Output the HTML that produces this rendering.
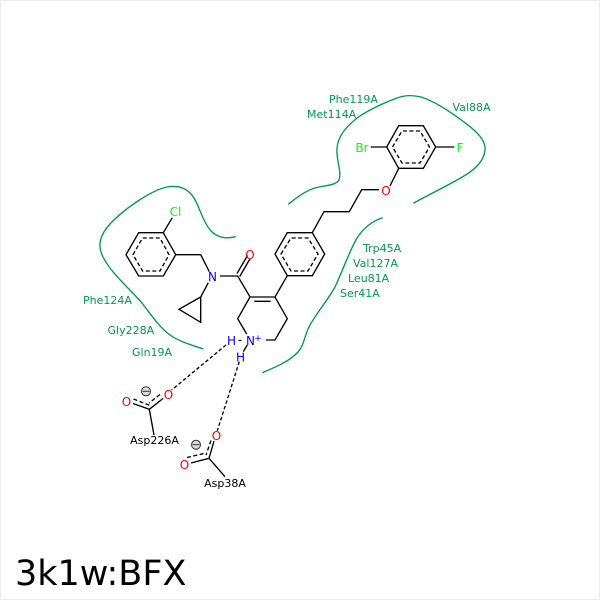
<!DOCTYPE html>
<html><head><meta charset="utf-8"><style>
html,body{margin:0;padding:0;background:#fff}
svg{display:block}
text{font-family:"DejaVu Sans",sans-serif;font-size:11px}
.g{fill:#009a4d}.b{fill:#000}.bl{fill:#0000ff;font-size:12px;text-anchor:middle}.r{fill:#ff0000;font-size:12px;text-anchor:middle}.l{fill:#00ff00;font-size:12px;text-anchor:middle}
.m{text-anchor:middle}
</style></head><body>
<svg width="600" height="600" viewBox="0 0 600 600" xmlns="http://www.w3.org/2000/svg">
<rect x="0.5" y="0.5" width="599" height="599" fill="#fff" stroke="#eeeeee" stroke-width="1"/>
<g fill="none" stroke="#009a4d" stroke-width="1.35">
<path d="M235.7,236.7C226,239 218,238 211,231C203,222 200,208 194,198C188,188 178,185 167,187C152,190 125,208 110,224C100,235 97,245 103,257C111,273 129,288 142,303C152,316 160,328 170,335C180,342 192,345 203.3,349"/>
<path d="M288.3,204.3C296,198 305,191 315,188C325,185 335,186 339,180C342,172 336,160 337,148C338,136 346,127 357,118C368,110 386,102 397,98C405,95 413,95 421,97C437,102 455,115 468,125C478,133 486,141 485,150C484,160 476,169 464,176C449,185 430,194 413.3,203.3"/>
<path d="M382.7,217.7C372,221 363,229 357,238C349,252 343,270 335,287C326,303 314,316 308,329C304,338 304,345 298,352C290,361 276,367 262.3,372.7"/>
</g>
<g fill="none" stroke="#000" stroke-width="1.35">
<path d="M126,254.7L138.7,232.7L163.3,232.7L175.7,254.7L163.3,276L138.7,276Z"/>
<path d="M163.3,232.7L172.3,217.7M175.7,254.7L200.7,254.7L209.3,271.7M220,276L237.7,276L250,297L275,297L287.3,318.7L275,340L266,340M250,297L237.7,318.7L246.7,334M254.3,301.3L270.7,301.3M237,273.5L247.5,255.5M239.7,276.5L250.2,258.5M275,297L287.3,275.7"/>
<path d="M208.3,282.7L200.7,297L179,309.3L200.7,322.3L200.7,297"/>
<path d="M275,254L287.3,232.7L312.3,232.7L324.7,254L312.3,275.7L287.3,275.7Z"/>
<path d="M312.3,232.7L324,211.7L349.3,211.7L361.7,189.7L379,189.7M390,186L398.7,168.3"/>
<path d="M386.7,147L398.7,125.7L423.3,125.7L435.7,147L423.3,168.3L398.7,168.3Z"/>
<path d="M370.7,147L386.7,147M435.7,147L454.3,147"/>
<path d="M149.3,409.3L133,403.5M149.3,409.3L163,398.5M149.3,409.3L154,435"/>
<path d="M209,458.3L191,463M209,458.3L214,441M209,458.3L225,476.7"/>
<path d="M238.5,340.5L241.5,340.5M247.3,345L243.3,351.7"/>
<g stroke-dasharray="4,2.5">
<path d="M133.5,399L150,405.5M160,394.5L149,403" />
<path d="M187,457.5L206,453M211,440.5L206,455"/>
</g>
<g stroke-dasharray="4,2.5">
<path d="M133,254.7L142.5,238L160,238L169,254.7L160,271L142.5,271Z"/>
<path d="M281,254L291,238L308,238L318,254L308,271L291,271Z"/>
<path d="M392.5,147L402,131L420,131L429.5,147L420,163L402,163Z"/>
</g>
<g stroke-dasharray="3.5,2.3">
<path d="M226,345L171.7,390M239.3,361.7L217.3,430.7"/>
</g>
</g>
<g fill="#ddd" stroke="#333" stroke-width="1">
<circle cx="146" cy="391.3" r="4.5"/><path d="M142.5,391.3H149.5"/>
<circle cx="196" cy="444.7" r="4.5"/><path d="M192.5,444.7H199.5"/>
</g>
<text class="g" x="329" y="103">Phe119A</text>
<text class="g" x="307" y="118">Met114A</text>
<text class="g" x="452.5" y="111">Val88A</text>
<text class="g" x="363" y="252">Trp45A</text>
<text class="g" x="353" y="267">Val127A</text>
<text class="g" x="348" y="282">Leu81A</text>
<text class="g" x="340" y="297">Ser41A</text>
<text class="g" x="83" y="304">Phe124A</text>
<text class="g" x="107.5" y="334">Gly228A</text>
<text class="g" x="132" y="356">Gln19A</text>
<text class="b m" x="154.5" y="444">Asp226A</text>
<text class="b m" x="225" y="487">Asp38A</text>
<text class="l" x="175.5" y="216">Cl</text>
<text class="l" x="362" y="152">Br</text>
<text class="l" x="460" y="152">F</text>
<text class="r" x="250" y="259">O</text>
<text class="r" x="386" y="195">O</text>
<text class="r" x="168.5" y="399">O</text>
<text class="r" x="126.5" y="406">O</text>
<text class="r" x="216.5" y="440">O</text>
<text class="r" x="184.5" y="469">O</text>
<text class="bl" x="212.5" y="281">N</text>
<text class="bl" x="250.5" y="345">N</text>
<text class="bl" x="258" y="341" style="font-size:9px">+</text>
<text class="bl" x="231.5" y="345">H</text>
<text class="bl" x="240.5" y="361.5">H</text>
<text x="15" y="585" style="font-size:35px;fill:#000">3k1w:BFX</text>
</svg>
</body></html>
